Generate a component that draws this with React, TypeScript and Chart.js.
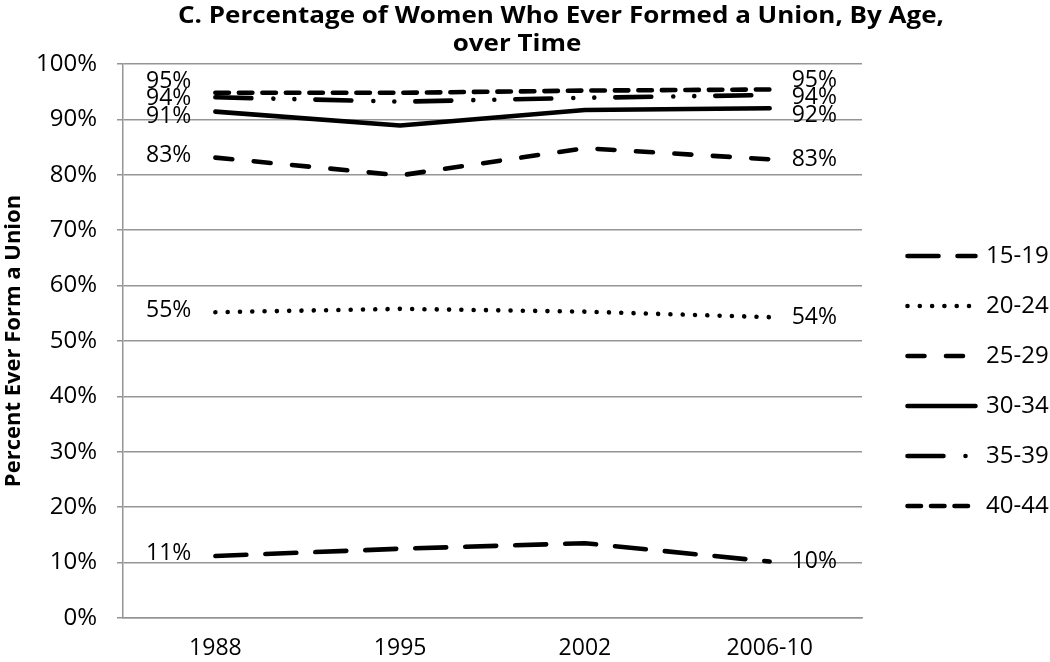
import React, { useEffect, useRef } from "react";
import { Chart, registerables } from "chart.js";

Chart.register(...registerables);

// ---- Data ----
const categories = ["1988", "1995", "2002", "2006-10"];
const seriesNames = ["15-19", "20-24", "25-29", "30-34", "35-39", "40-44"];
const age15to19 = [11.2, 12.5, 13.5, 10.2];
const age20to24 = [55.2, 55.8, 55.3, 54.3];
const age25to29 = [83.1, 79.9, 84.8, 82.8];
const age30to34 = [91.4, 88.9, 91.7, 92.0];
const age35to39 = [94.0, 93.2, 93.9, 94.4];
const age40to44 = [94.8, 94.8, 95.2, 95.4];
const titleLines = ["C. Percentage of Women Who Ever Formed a Union, By Age,", "over Time"];
const yAxisTitle = "Percent Ever Form a Union";

// ---- Styles ----
const FONT = "'Open Sans', 'DejaVu Sans', sans-serif";
const GRID = "#959595";
const LINE_W = 4.6;
const dashes: number[][] = [
  [31, 19],
  [0.001, 12.3],
  [17, 21.5],
  [],
  [36, 22, 0.001, 21, 0.001, 21],
  [13.5, 10],
];

const seriesValues = [age15to19, age20to24, age25to29, age30to34, age35to39, age40to44];

function resolve(items: { y: number }[], gap: number) {
  items.sort((a, b) => a.y - b.y);
  for (let it = 0; it < 100; it++) {
    let moved = false;
    for (let i = 1; i < items.length; i++) {
      const d = items[i].y - items[i - 1].y;
      if (d < gap - 0.01) {
        const s = (gap - d) / 2;
        items[i - 1].y -= s;
        items[i].y += s;
        moved = true;
      }
    }
    if (!moved) break;
  }
}

const labelPlugin = {
  id: "endLabels",
  afterDatasetsDraw(chart: any) {
    const ctx = chart.ctx;
    const n = chart.data.labels.length;
    const left: any[] = [];
    const right: any[] = [];
    chart.data.datasets.forEach((ds: any, i: number) => {
      const meta = chart.getDatasetMeta(i);
      const p0 = meta.data[0];
      const p1 = meta.data[n - 1];
      left.push({ x: p0.x, y: p0.y, text: Math.round(ds.data[0]) + "%" });
      right.push({ x: p1.x, y: p1.y, text: Math.round(ds.data[n - 1]) + "%" });
    });
    resolve(left, 17.5);
    resolve(right, 17.5);
    ctx.save();
    ctx.font = `23px ${FONT}`;
    ctx.fillStyle = "#000";
    ctx.textBaseline = "middle";
    ctx.textAlign = "right";
    left.forEach((l) => ctx.fillText(l.text, l.x - 24, l.y - 2));
    ctx.textAlign = "left";
    right.forEach((r) => ctx.fillText(r.text, r.x + 22, r.y));
    ctx.restore();
  },
};

const legendPlugin = {
  id: "customLegend",
  afterDraw(chart: any) {
    const ctx = chart.ctx;
    const x0 = chart.chartArea.right + 43;
    const x1 = x0 + 73;
    const yStart = 256;
    const step = 50;
    ctx.save();
    chart.data.datasets.forEach((ds: any, i: number) => {
      const y = yStart + i * step;
      ctx.beginPath();
      ctx.setLineDash(ds.borderDash || []);
      ctx.lineWidth = ds.borderWidth;
      ctx.lineCap = ds.borderCapStyle;
      ctx.strokeStyle = ds.borderColor;
      ctx.moveTo(x0 + 2.5, y);
      ctx.lineTo(x1 - 2.5, y);
      ctx.stroke();
      ctx.setLineDash([]);
      ctx.font = `24px ${FONT}`;
      ctx.fillStyle = "#000";
      ctx.textAlign = "left";
      ctx.textBaseline = "middle";
      ctx.fillText(ds.label, x1 + 8, y);
    });
    ctx.restore();
  },
};

// draws a line of text horizontally stretched to a target width
function stretchText(ctx: any, text: string, left: number, baseline: number, width: number) {
  const w = ctx.measureText(text).width;
  ctx.save();
  ctx.translate(left, baseline);
  ctx.scale(width / w, 1);
  ctx.fillText(text, 0, 0);
  ctx.restore();
}

const titlePlugin = {
  id: "twoLineTitle",
  afterDraw(chart: any) {
    const ctx = chart.ctx;
    ctx.save();
    ctx.font = `bold 23px ${FONT}`;
    ctx.fillStyle = "#000";
    ctx.textBaseline = "alphabetic";
    ctx.textAlign = "left";
    const w0 = ctx.measureText(titleLines[0]).width;
    const sx = 766 / w0;
    stretchText(ctx, titleLines[0], 178, 23, 766);
    const w1 = ctx.measureText(titleLines[1]).width * sx;
    stretchText(ctx, titleLines[1], 517 - w1 / 2, 51, w1);
    ctx.restore();
  },
};

export default function App() {
  const ref = useRef<HTMLCanvasElement>(null);
  useEffect(() => {
    if (!ref.current) return;
    const chart = new Chart(ref.current, {
      type: "line",
      data: {
        labels: categories,
        datasets: seriesNames.map((name, i) => ({
          label: name,
          data: seriesValues[i],
          borderColor: "#000",
          backgroundColor: "#000",
          borderWidth: LINE_W,
          borderDash: dashes[i],
          borderCapStyle: "round",
          borderJoinStyle: "round",
          pointRadius: 0,
          pointHoverRadius: 0,
          tension: 0,
          fill: false,
        })),
      },
      options: {
        animation: false,
        responsive: false,
        maintainAspectRatio: false,
        layout: { padding: { top: 64, right: 188, bottom: 0, left: 0 } },
        plugins: {
          legend: { display: false },
          title: { display: false },
          tooltip: { enabled: false },
        },
        scales: {
          x: {
            offset: true,
            grid: { display: false },
            border: { display: true, color: GRID, width: 1.5 },
            ticks: { color: "#000", font: { family: FONT, size: 23 }, padding: 9, maxRotation: 0 },
            afterFit: (s: any) => {
              s.height = 44;
            },
          },
          y: {
            min: 0,
            max: 100,
            grid: { color: GRID, lineWidth: 1.5, tickLength: 6, drawTicks: true },
            border: { display: true, color: GRID, width: 1.5 },
            ticks: {
              stepSize: 10,
              color: "#000",
              font: { family: FONT, size: 24 },
              padding: 20,
              callback: (v: any) => v + "%",
            },
            title: {
              display: true,
              text: yAxisTitle,
              color: "#000",
              font: { family: FONT, size: 22, weight: "bold" },
              padding: { top: 1, bottom: 0 },
            },
            afterFit: (s: any) => {
              s.width = 123;
            },
          },
        },
      },
      plugins: [labelPlugin, legendPlugin, titlePlugin],
    });
    return () => chart.destroy();
  }, []);
  return (
    <div style={{ position: "fixed", left: 0, top: 0, width: 1050, height: 662, background: "#fff" }}>
      <canvas ref={ref} width={1050} height={662} style={{ width: 1050, height: 662 }} />
    </div>
  );
}
